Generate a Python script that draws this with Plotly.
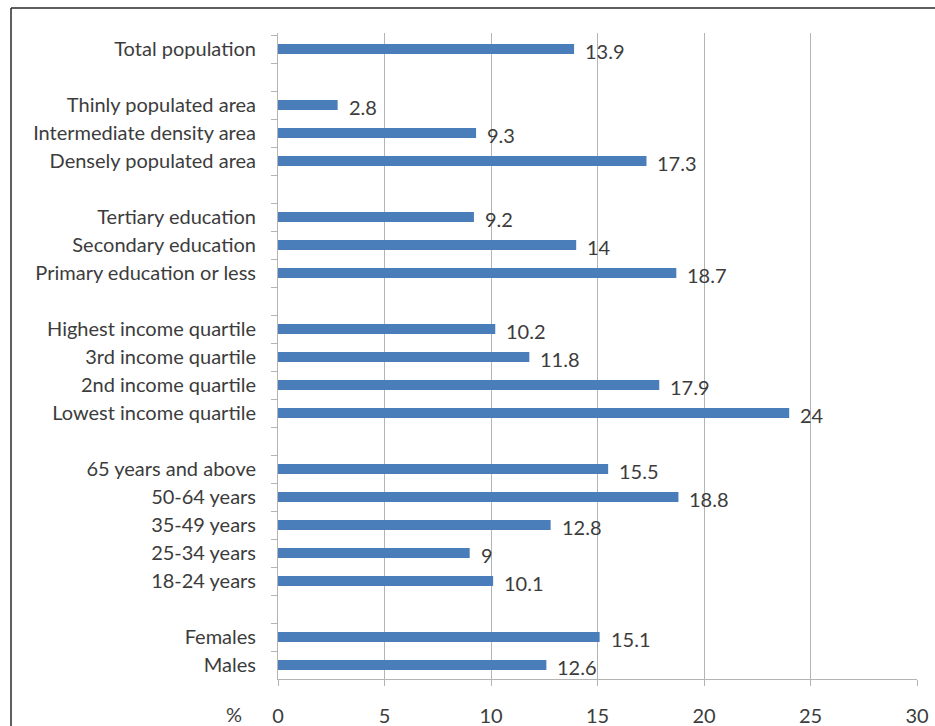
import plotly.graph_objects as go

# Share of people (%) by group, listed top to bottom
total_labels = ["Total population"]
total_values = [13.9]

area_labels = ["Thinly populated area", "Intermediate density area", "Densely populated area"]
area_values = [2.8, 9.3, 17.3]

education_labels = ["Tertiary education", "Secondary education", "Primary education or less"]
education_values = [9.2, 14, 18.7]

income_labels = ["Highest income quartile", "3rd income quartile", "2nd income quartile", "Lowest income quartile"]
income_values = [10.2, 11.8, 17.9, 24]

age_labels = ["65 years and above", "50-64 years", "35-49 years", "25-34 years", "18-24 years"]
age_values = [15.5, 18.8, 12.8, 9, 10.1]

sex_labels = ["Females", "Males"]
sex_values = [15.1, 12.6]

groups = [
    (total_labels, total_values),
    (area_labels, area_values),
    (education_labels, education_values),
    (income_labels, income_values),
    (age_labels, age_values),
    (sex_labels, sex_values),
]

# Flatten groups, inserting an empty category between them
cats, vals = [], []
for i, (labs, vs) in enumerate(groups):
    if i > 0:
        cats.append(" " * i)
        vals.append(None)
    cats.extend(labs)
    vals.extend(vs)

W, H = 935, 726
L, R, T, B = 278, 18, 33, 47
pw, ph = W - L - R, H - T - B

FONT = "Lato"
FS = 20
TXT = "#3c3c3c"
GRID = "#b4b4b4"

fig = go.Figure(go.Bar(
    x=vals, y=cats, orientation="h",
    marker=dict(color="#4a7ebb", line=dict(width=0)),
    hoverinfo="skip",
))

# value labels to the right of each bar
for c, v in zip(cats, vals):
    if v is None:
        continue
    fig.add_annotation(x=v, y=c, text=f"{v:g}", showarrow=False,
                       xanchor="left", yanchor="middle", xshift=9, yshift=-2,
                       font=dict(family=FONT, size=FS, color=TXT))

# frame around the figure (left and top edges visible)
fx0 = (11 - L) / pw
fy1 = 1 + (T - 8) / ph
fig.add_shape(type="line", xref="paper", yref="paper", x0=fx0, x1=fx0,
              y0=fy1, y1=-B / ph - 0.01, line=dict(color="#2a2a2a", width=1.5))
fig.add_shape(type="line", xref="paper", yref="paper", x0=fx0, x1=(W - L) / pw + 0.01,
              y0=fy1, y1=fy1, line=dict(color="#2a2a2a", width=1.5))

fig.add_annotation(xref="paper", yref="paper", x=(234 - L) / pw, y=(H - B - 714) / ph,
                   text="%", showarrow=False, xanchor="center", yanchor="middle",
                   font=dict(family=FONT, size=FS, color=TXT))

fig.update_layout(
    width=W, height=H,
    margin=dict(l=L, r=R, t=T, b=B, autoexpand=False),
    paper_bgcolor="white", plot_bgcolor="white",
    bargap=0.64, showlegend=False,
    font=dict(family=FONT, size=FS, color=TXT),
)
fig.update_xaxes(range=[0, 30], tickvals=[0, 5, 10, 15, 20, 25, 30],
                 showgrid=True, gridcolor=GRID, gridwidth=1,
                 showline=True, linecolor=GRID, linewidth=1,
                 ticks="outside", ticklen=6, tickcolor=GRID,
                 ticklabelstandoff=13, automargin=False,
                 zeroline=False, fixedrange=True,
                 tickfont=dict(family=FONT, size=FS, color=TXT))
fig.update_yaxes(type="category", categoryorder="array", categoryarray=cats,
                 autorange="reversed", showgrid=False,
                 showline=True, linecolor=GRID, linewidth=1,
                 ticks="outside", ticklen=6, tickcolor=GRID, tickson="boundaries",
                 ticklabelstandoff=17, automargin=False,
                 tickfont=dict(family=FONT, size=FS, color=TXT))

fig.write_html("out.html")
